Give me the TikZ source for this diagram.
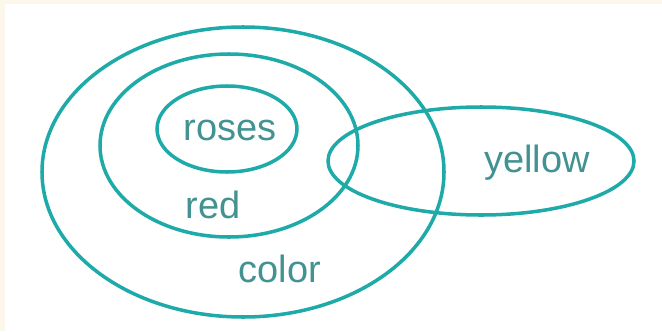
\documentclass[tikz,border=0pt]{standalone}
\usepackage{fontspec}
\setmainfont{Liberation Sans}
\usetikzlibrary{shapes.geometric}
\definecolor{setline}{RGB}{30,170,168}
\definecolor{settext}{RGB}{66,146,146}
\definecolor{paper}{RGB}{253,246,235}
\begin{document}
\begin{tikzpicture}[
      set/.style={draw=setline, line width=2.5pt, ellipse, inner sep=0pt},
      lbl/.style={text=settext, anchor=base, inner sep=0pt, font=\fontsize{27}{30}\selectfont}]
    \useasboundingbox (0,0) rectangle (16.55,8.275);
    \fill[paper] (0,0) rectangle (16.55,8.275);
    \fill[white] (0.125,0) rectangle (16.55,8.175);
    \node[set, minimum width=10.05cm, minimum height=7.25cm]  (color)  at (6.075,3.975) {};
    \node[set, minimum width=6.45cm,  minimum height=4.575cm] (red)    at (5.725,4.6375) {};
    \node[set, minimum width=3.5cm,   minimum height=2.15cm]  (roses)  at (5.675,5.05) {};
    \node[set, minimum width=7.65cm,  minimum height=2.7cm]   (yellow) at (12.025,4.25) {};
    \node[lbl] (troses)  at (5.75,4.775)  {roses};
    \node[lbl] (tred)    at (5.325,2.825) {red};
    \node[lbl] (tcolor)  at (7.0,1.225)   {color};
    \node[lbl] (tyellow) at (13.425,3.975) {yellow};
  \end{tikzpicture}
\end{document}
